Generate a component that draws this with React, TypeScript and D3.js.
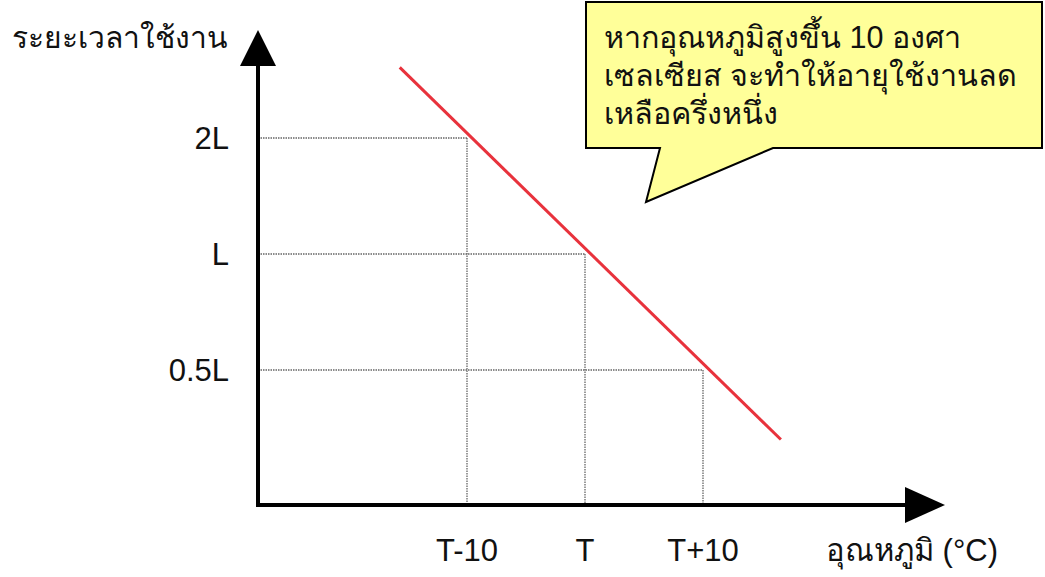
import React from 'react';
import * as d3 from 'd3';

// temperature offsets from T, and life in multiples of L
const tempTicks = [-10, 0, 10];
const tempLabels = ['T-10', 'T', 'T+10'];
const lifeTicks = [2, 1, 0.5];
const lifeLabels = ['2L', 'L', '0.5L'];
const lineTemps = [-15.7, 16.6];
const lineLife = [3.05, 0.33];
const yTitle = 'ระยะเวลาใช้งาน';
const xTitle = 'อุณหภูมิ (°C)';
const noteLines = [
    'หากอุณหภูมิสูงขึ้น 10 องศา',
    'เซลเซียส จะทำให้อายุใช้งานลด',
    'เหลือครึ่งหนึ่ง',
];

const W = 1045;
const H = 577;
const font = '"Liberation Sans", Arial, "Noto Sans", sans-serif';

const App: React.FC = () => {
    const x = d3.scaleLinear().domain([-10, 10]).range([467, 703]);
    const y = d3.scaleLog().base(2).domain([0.5, 2]).range([370, 138]);

    const axisX = 258;
    const axisY = 505;

    const pts = lineTemps.map((t, i) => [x(t), y(lineLife[i])] as [number, number]);
    const line = d3.line();

    // bubble outline
    const bubble = 'M586,2 L1042,2 L1042,148 L773,148 L646,202 L660,148 L586,148 Z';

    return (
        <svg width={W} height={H} style={{ position: 'absolute', left: 0, top: 0, background: '#fff' }}>
            {/* dotted guides */}
            {tempTicks.map((t, i) => (
                <g key={t}>
                    <line x1={axisX} x2={x(t)} y1={y(lifeTicks[i])} y2={y(lifeTicks[i])}
                        stroke="#666" strokeWidth={1.3} strokeDasharray="1.5,1" />
                    <line x1={x(t)} x2={x(t)} y1={y(lifeTicks[i])} y2={axisY}
                        stroke="#666" strokeWidth={1.3} strokeDasharray="1.5,1" />
                </g>
            ))}

            {/* axes */}
            <line x1={axisX} x2={axisX} y1={axisY + 2} y2={60} stroke="#000" strokeWidth={4} />
            <path d={`M${axisX},30 L${axisX + 18},66 L${axisX - 18},66 Z`} fill="#000" />
            <line x1={axisX - 2} x2={910} y1={axisY} y2={axisY} stroke="#000" strokeWidth={4} />
            <path d={`M945,${axisY} L905,${axisY - 18} L905,${axisY + 18} Z`} fill="#000" />

            {/* life line */}
            <path d={line(pts) || ''} stroke="#e8323c" strokeWidth={3} fill="none" />

            {/* y tick labels */}
            {lifeTicks.map((v, i) => (
                <text key={v} x={229} y={y(v)} dy="0.36em" textAnchor="end"
                    fontFamily={font} fontSize={31} fill="#111">{lifeLabels[i]}</text>
            ))}

            {/* x tick labels */}
            {tempTicks.map((t, i) => (
                <text key={t} x={x(t)} y={561} textAnchor="middle"
                    fontFamily={font} fontSize={31} fill="#111">{tempLabels[i]}</text>
            ))}

            <text x={12} y={48} fontFamily={font} fontSize={30} fill="#111">{yTitle}</text>
            <text x={826} y={561} fontFamily={font} fontSize={31} fill="#111">{xTitle}</text>

            {/* note bubble */}
            <path d={bubble} fill="#ffff99" stroke="#000" strokeWidth={2} />
            {noteLines.map((s, i) => (
                <text key={i} x={604} y={48 + i * 38} fontFamily={font} fontSize={30.5} fill="#111">{s}</text>
            ))}
        </svg>
    );
};

export default App;
